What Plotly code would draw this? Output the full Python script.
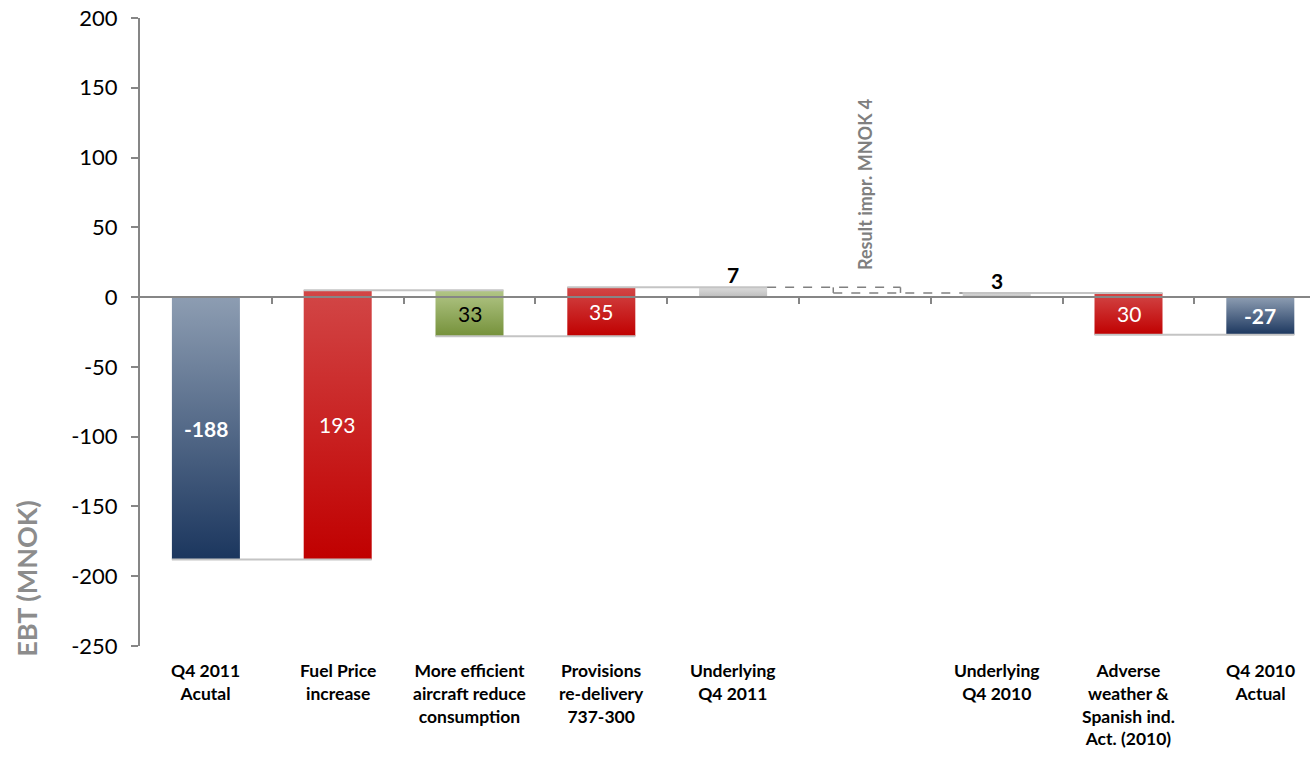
import plotly.graph_objects as go

# EBT bridge Q4 2011 -> Q4 2010 (MNOK)
categories = [
    "Q4 2011<br>Acutal",
    "Fuel Price<br>increase",
    "More efficient<br>aircraft reduce<br>consumption",
    "Provisions<br>re-delivery<br>737-300",
    "Underlying<br>Q4 2011",
    "",
    "Underlying<br>Q4 2010",
    "Adverse<br>weather &<br>Spanish ind.<br>Act. (2010)",
    "Q4 2010<br>Actual",
]
# "absolute" starts a new bar from zero, "relative" moves from the running level,
# "total" shows the running level from zero, None leaves the slot empty
kinds = ["absolute", "relative", "relative", "relative", "total", None, "absolute", "relative", "total"]
changes = [-188, 193, -33, 35, None, None, 3, -30, None]
shown_values = ["-188", "193", "33", "35", "7", "", "3", "30", "-27"]
improvement_text = "Result impr. MNOK 4"

y_ticks = [-250, -200, -150, -100, -50, 0, 50, 100, 150, 200]
y_tick_text = [str(v) for v in y_ticks]

styles = ["navy", "red", "green", "red", "gray", None, "gray", "red", "navy"]
gradients = {
    "navy": ("#1B365E", "#8D9DB2"),
    "red": ("#C00000", "#D24646"),
    "green": ("#75913A", "#B2C687"),
    "gray": ("#BDBDBD", "#DCDCDC"),
}
label_styles = {
    "navy": ("white", "bold", "inside"),
    "red": ("white", "normal", "inside"),
    "green": ("black", "normal", "inside"),
    "gray": ("black", "bold", "above"),
}

FONT = "Lato"
BAR_W = 0.516
AXIS_GRAY = "#868686"

# running levels -> (start, end) of every bar
segments = []
level = 0
for kind, ch in zip(kinds, changes):
    if kind == "absolute":
        segments.append((0, ch))
        level = ch
    elif kind == "relative":
        segments.append((level, level + ch))
        level = level + ch
    elif kind == "total":
        segments.append((0, level))
    else:
        segments.append(None)

fig = go.Figure()

# bars as gradient-filled rectangles
for i, seg in enumerate(segments):
    if seg is None:
        continue
    lo, hi = min(seg), max(seg)
    bottom_c, top_c = gradients[styles[i]]
    x0, x1 = i - BAR_W / 2, i + BAR_W / 2
    fig.add_trace(go.Scatter(
        x=[x0, x1, x1, x0, x0], y=[lo, lo, hi, hi, lo],
        mode="lines", line=dict(width=0), fill="toself",
        fillgradient=dict(type="vertical", start=lo, stop=hi,
                          colorscale=[[0, bottom_c], [1, top_c]]),
        hoverinfo="skip", showlegend=False,
    ))

# connectors between neighbouring bars
for i in range(len(segments) - 1):
    a, b = segments[i], segments[i + 1]
    if a is None or b is None or kinds[i + 1] == "absolute":
        continue
    lvl = a[1]
    fig.add_shape(type="line", x0=i - BAR_W / 2, x1=i + 1 + BAR_W / 2, y0=lvl, y1=lvl,
                  line=dict(color="#C4C4C4", width=2), layer="above")

# dashed bracket showing the result improvement between the two underlying results
gap = categories.index("")
lvl_2011 = segments[gap - 1][1]
lvl_2010 = segments[gap + 1][1]
dash = dict(color="#808080", width=1.5, dash="dash")
fig.add_shape(type="line", x0=gap - 1 + BAR_W / 2, x1=gap + 0.27, y0=lvl_2011, y1=lvl_2011, line=dash)
fig.add_shape(type="line", x0=gap - 0.24, x1=gap - 0.24, y0=lvl_2011, y1=lvl_2010, line=dash)
fig.add_shape(type="line", x0=gap + 0.27, x1=gap + 0.27, y0=lvl_2011, y1=lvl_2010, line=dash)
fig.add_shape(type="line", x0=gap - 0.24, x1=gap + 1 - BAR_W / 2, y0=lvl_2010, y1=lvl_2010, line=dash)
fig.add_annotation(x=gap, y=lvl_2011 + 74, text=improvement_text, textangle=-90,
                   showarrow=False, xanchor="center", yanchor="middle",
                   font=dict(family=FONT, size=18, color="#7F7F7F", weight="bold"))

# value labels
for i, seg in enumerate(segments):
    if seg is None:
        continue
    color, weight, where = label_styles[styles[i]]
    if where == "inside":
        fig.add_annotation(x=i, y=(seg[0] + seg[1]) / 2, text=shown_values[i], showarrow=False,
                           font=dict(family=FONT, size=21, color=color, weight=weight))
    else:
        fig.add_annotation(x=i, y=max(seg), text=shown_values[i], showarrow=False,
                           yanchor="bottom", yshift=-2,
                           font=dict(family=FONT, size=21, color=color, weight=weight))

# category labels
for i, cat in enumerate(categories):
    if not cat:
        continue
    fig.add_annotation(x=i, xref="x", y=0, yref="paper", yanchor="top", yshift=-12,
                       text=cat, showarrow=False, align="center",
                       font=dict(family=FONT, size=17.5, color="black", weight="bold"))

fig.add_annotation(x=0, xref="paper", xshift=-113, y=0.107, yref="paper",
                   text="EBT (MNOK)", textangle=-90, showarrow=False,
                   xanchor="center", yanchor="middle",
                   font=dict(family=FONT, size=27, color="#8C8C8C", weight="bold"))

y_min, y_max = -250, 200
fig.update_layout(
    width=1310, height=759,
    margin=dict(l=140, r=0, t=18, b=113),
    plot_bgcolor="white", paper_bgcolor="white",
    xaxis=dict(range=[-0.5, 8.377], anchor="free", position=-y_min / (y_max - y_min),
               showline=True, linecolor=AXIS_GRAY, linewidth=2,
               ticks="outside", ticklen=6, tickwidth=2, tickcolor=AXIS_GRAY,
               tickvals=[k + 0.5 for k in range(len(categories))],
               showticklabels=False, showgrid=False, zeroline=False),
    yaxis=dict(range=[y_min, y_max], tickvals=y_ticks, ticktext=y_tick_text,
               showline=True, linecolor=AXIS_GRAY, linewidth=2,
               ticks="outside", ticklen=7, tickwidth=2, tickcolor=AXIS_GRAY,
               ticklabelstandoff=9,
               tickfont=dict(family=FONT, size=22, color="black"),
               showgrid=False, zeroline=False),
    showlegend=False,
)

fig.write_html("out.html")
